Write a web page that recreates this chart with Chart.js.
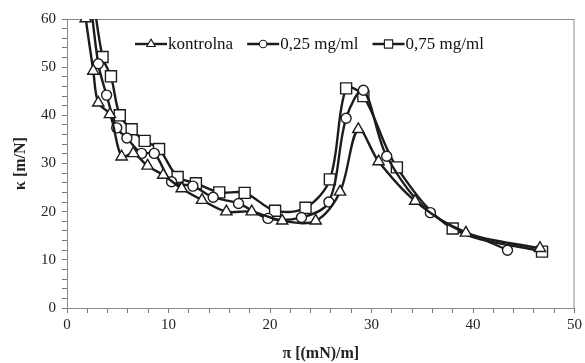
<!DOCTYPE html>
<html>
<head>
<meta charset="utf-8">
<script src="https://cdn.jsdelivr.net/npm/chart.js@4.4.1/dist/chart.umd.min.js"></script>
<style>
  html, body { margin: 0; padding: 0; background: #fff; }
  #wrap { width: 585px; height: 363px; }
</style>
</head>
<body>
<div id="wrap"><canvas id="Chart" width="585" height="363"></canvas></div>
<script>
// series values
var kontrolnaX = [1.84, 2.59, 3.08, 4.23, 5.38, 6.53, 7.94, 9.48, 11.3, 13.3, 15.7, 18.2, 21.2, 24.5, 26.9, 28.7, 30.7, 34.3, 39.3, 46.6];
var kontrolnaY = [60.1, 49.2, 42.6, 40.2, 31.4, 32.1, 29.5, 27.6, 24.8, 22.4, 20.0, 20.0, 18.1, 18.1, 24.1, 37.1, 30.4, 22.2, 15.6, 12.4];

var c025X = [2.1, 3.08, 3.9, 4.9, 5.9, 7.35, 8.6, 10.3, 12.4, 14.4, 16.9, 19.8, 23.1, 25.8, 27.5, 29.2, 31.5, 35.8, 43.4];
var c025Y = [68.0, 50.7, 44.2, 37.4, 35.3, 32.1, 32.1, 26.2, 25.3, 23.0, 21.7, 18.6, 18.8, 22.0, 39.4, 45.2, 31.5, 19.8, 12.0];

var c075X = [2.35, 3.5, 4.33, 5.2, 6.37, 7.65, 9.07, 10.9, 12.7, 15.0, 17.5, 20.5, 23.5, 25.9, 27.5, 29.2, 32.5, 38.0, 46.8];
var c075Y = [68.0, 52.1, 48.1, 40.0, 37.1, 34.7, 33.0, 27.2, 25.9, 24.0, 23.9, 20.2, 20.8, 26.7, 45.6, 44.0, 29.2, 16.5, 11.7];

var seriesLabels = ['kontrolna', '0,25 mg/ml', '0,75 mg/ml'];
var xTicks = [0, 10, 20, 30, 40, 50];
var yTicks = [0, 10, 20, 30, 40, 50, 60];

function toPoints(xs, ys) {
  return xs.map(function (x, i) { return { x: x, y: ys[i] }; });
}

var lineColor = '#1c1c1c';
var serif = '"Liberation Serif", "DejaVu Serif", serif';

function makeSet(label, xs, ys, style, radius) {
  return {
    label: label,
    data: toPoints(xs, ys),
    showLine: true,
    borderColor: lineColor,
    borderWidth: 2.4,
    tension: 0.33,
    pointStyle: style,
    pointRadius: radius,
    pointBorderWidth: 1.4,
    pointBorderColor: lineColor,
    pointBackgroundColor: '#fff'
  };
}

// legend drawn inside the plot area: line, marker, text
var innerLegend = {
  id: 'innerLegend',
  afterDraw: function (chart) {
    var ctx = chart.ctx;
    var x = 135, y = 44;
    ctx.save();
    ctx.font = '17px ' + serif;
    ctx.textBaseline = 'middle';
    chart.data.datasets.forEach(function (ds) {
      ctx.strokeStyle = lineColor;
      ctx.lineWidth = 2.4;
      ctx.beginPath();
      ctx.moveTo(x, y);
      ctx.lineTo(x + 32, y);
      ctx.stroke();
      ctx.lineWidth = 1.1;
      ctx.fillStyle = '#fff';
      Chart.helpers.drawPoint(ctx, {
        pointStyle: ds.pointStyle,
        rotation: 0,
        borderWidth: 1.1,
        radius: ds.pointRadius * 0.75
      }, x + 16, y);
      ctx.fillStyle = '#111';
      ctx.fillText(ds.label, x + 33, y + 1);
      x += 33 + ctx.measureText(ds.label).width + 14;
    });
    ctx.restore();
  }
};

// grey frame round the plot
var frame = {
  id: 'frame',
  beforeDatasetsDraw: function (chart) {
    var a = chart.chartArea, ctx = chart.ctx;
    ctx.save();
    ctx.strokeStyle = '#8c8c8c';
    ctx.lineWidth = 1;
    ctx.strokeRect(a.left + 0.5, a.top + 0.5, a.right - a.left - 1, a.bottom - a.top);
    ctx.restore();
  }
};

function majorOnly(list) {
  return function (v) { return list.indexOf(v) >= 0 ? String(v) : ''; };
}

var ctx = document.getElementById('Chart').getContext('2d');
var myChart = new Chart(ctx, {
  type: 'scatter',
  data: {
    datasets: [
      makeSet(seriesLabels[0], kontrolnaX, kontrolnaY, 'triangle', 6.5),
      makeSet(seriesLabels[1], c025X, c025Y, 'circle', 5),
      makeSet(seriesLabels[2], c075X, c075Y, 'rect', 7.8)
    ]
  },
  plugins: [frame, innerLegend],
  options: {
    responsive: false,
    animation: false,
    layout: { padding: { left: 0, right: 10, top: 19, bottom: 0 } },
    plugins: {
      legend: { display: false },
      tooltip: { enabled: false }
    },
    scales: {
      x: {
        type: 'linear',
        min: 0,
        max: 50,
        afterFit: function (s) { s.height = 55; },
        border: { color: '#777', width: 1 },
        grid: { drawOnChartArea: false, drawTicks: true, tickLength: 5, color: '#777' },
        ticks: {
          stepSize: 2,
          autoSkip: false,
          maxRotation: 0,
          padding: 3,
          color: '#222',
          font: { family: serif, size: 15 },
          callback: majorOnly(xTicks)
        },
        title: {
          display: true,
          text: 'π [(mN)/m]',
          color: '#222',
          font: { family: serif, size: 16, weight: 'bold' },
          padding: { top: 2, bottom: 0 }
        }
      },
      y: {
        type: 'linear',
        min: 0,
        max: 60,
        afterFit: function (s) { s.width = 67; },
        border: { color: '#777', width: 1 },
        grid: { drawOnChartArea: false, drawTicks: true, tickLength: 5, color: '#777' },
        ticks: {
          stepSize: 2,
          autoSkip: false,
          padding: 6,
          color: '#222',
          font: { family: serif, size: 15 },
          callback: majorOnly(yTicks)
        },
        title: {
          display: true,
          text: 'κ [m/N]',
          color: '#222',
          font: { family: serif, size: 16, weight: 'bold' },
          padding: { top: 11, bottom: 0 }
        }
      }
    }
  }
});
</script>
</body>
</html>
